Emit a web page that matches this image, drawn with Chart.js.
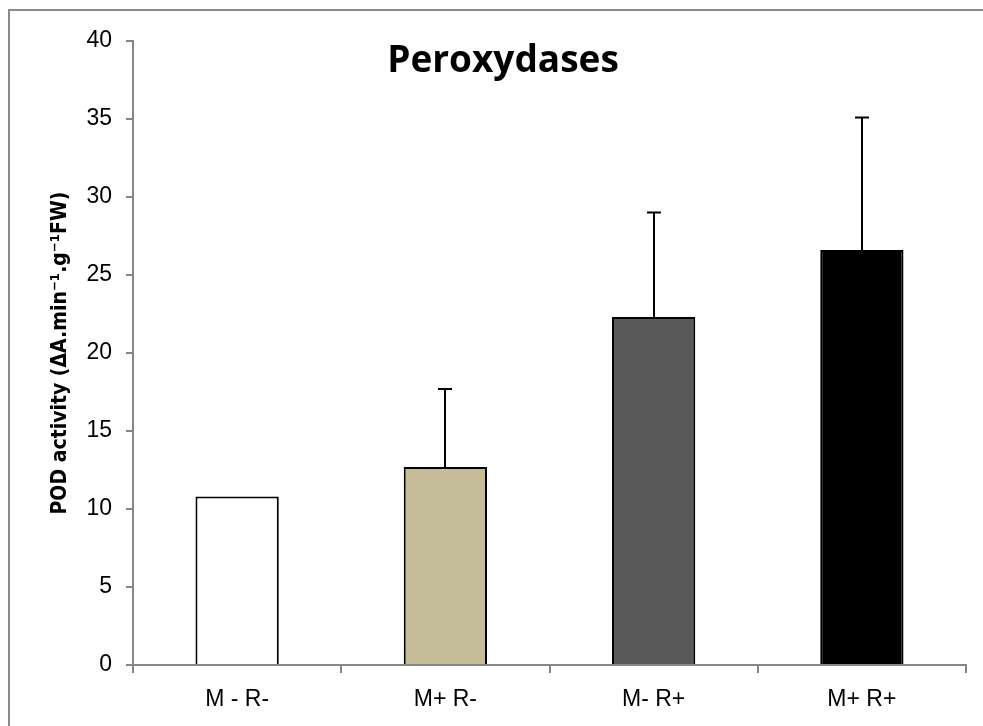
<!DOCTYPE html>
<html>
<head>
<meta charset="utf-8">
<script src="https://cdn.jsdelivr.net/npm/chart.js@4/dist/chart.umd.min.js"></script>
<style>
    html, body { margin: 0; padding: 0; background: #fff; overflow: hidden; }
    #wrap { position: relative; width: 983px; height: 726px; overflow: hidden; }
    #frame { position: absolute; left: 8px; top: 9px; width: 1000px; height: 740px; border-left: 2px solid #8a8a8a; border-top: 2px solid #8a8a8a; }
    canvas { position: absolute; left: 0; top: 0; }
</style>
</head>
<body>
<div id="wrap">
    <div id="frame"></div>
    <canvas id="podChart" width="983" height="726"></canvas>
</div>
<script>
// 数据
const groups = ['M - R-', 'M+ R-', 'M- R+', 'M+ R+'];
const podMeans = [10.8, 12.7, 22.3, 26.6];
const podErrorTops = [null, 17.7, 29.0, 35.1];
const barColors = ['#ffffff', '#c4bd97', '#595959', '#000000'];
const yTicks = [0, 5, 10, 15, 20, 25, 30, 35, 40];

const axisGrey = '#868686';
const tickFont = { family: "'Liberation Sans', sans-serif", size: 23 };

// 误差线
const errorBars = {
    id: 'errorBars',
    afterDatasetsDraw(chart) {
        const { ctx, scales: { x, y } } = chart;
        ctx.save();
        ctx.strokeStyle = '#000';
        ctx.lineWidth = 2;
        podErrorTops.forEach((top, i) => {
            if (top == null) return;
            const cx = Math.round(x.getPixelForValue(i));
            const y0 = y.getPixelForValue(podMeans[i]);
            const y1 = y.getPixelForValue(top);
            ctx.beginPath();
            ctx.moveTo(cx, y0);
            ctx.lineTo(cx, y1);
            ctx.moveTo(cx - 7, y1);
            ctx.lineTo(cx + 7, y1);
            ctx.stroke();
        });
        ctx.restore();
    }
};

// 标题
const titleText = {
    id: 'titleText',
    afterDraw(chart) {
        const ctx = chart.ctx;
        ctx.save();
        ctx.fillStyle = '#000';
        ctx.font = "bold 37px 'Open Sans', sans-serif";
        ctx.textAlign = 'center';
        ctx.textBaseline = 'alphabetic';
        ctx.fillText('Peroxydases', 503, 72);
        ctx.restore();
    }
};

new Chart(document.getElementById('podChart'), {
    type: 'bar',
    data: {
        labels: groups,
        datasets: [{
            data: podMeans,
            backgroundColor: barColors,
            borderColor: '#000',
            borderWidth: 2,
            borderSkipped: 'bottom',
            categoryPercentage: 0.4,
            barPercentage: 1.0
        }]
    },
    options: {
        responsive: false,
        animation: false,
        layout: { padding: { left: 0, right: 17, top: 41, bottom: 0 } },
        plugins: {
            legend: { display: false },
            tooltip: { enabled: false }
        },
        scales: {
            x: {
                offset: true,
                grid: {
                    offset: true,
                    drawOnChartArea: false,
                    drawTicks: true,
                    tickLength: 8,
                    color: axisGrey,
                    lineWidth: 2
                },
                border: { color: axisGrey, width: 2 },
                ticks: { color: '#000', font: tickFont, padding: 13 },
                afterFit(scale) { scale.height = 61; }
            },
            y: {
                min: 0,
                max: 40,
                afterBuildTicks(scale) { scale.ticks = yTicks.map(v => ({ value: v })); },
                grid: {
                    drawOnChartArea: false,
                    drawTicks: true,
                    tickLength: 7,
                    color: axisGrey,
                    lineWidth: 2
                },
                border: { color: axisGrey, width: 2 },
                ticks: { color: '#000', font: tickFont, padding: 14 },
                title: {
                    display: true,
                    text: 'POD activity (ΔA.min⁻¹.g⁻¹FW)',
                    color: '#000',
                    font: { family: "'DejaVu Sans Condensed', 'DejaVu Sans', sans-serif", size: 21, weight: 'bold' },
                    padding: { top: 48, bottom: 0 }
                },
                afterFit(scale) { scale.width = 133; }
            }
        }
    },
    plugins: [errorBars, titleText]
});
</script>
</body>
</html>
